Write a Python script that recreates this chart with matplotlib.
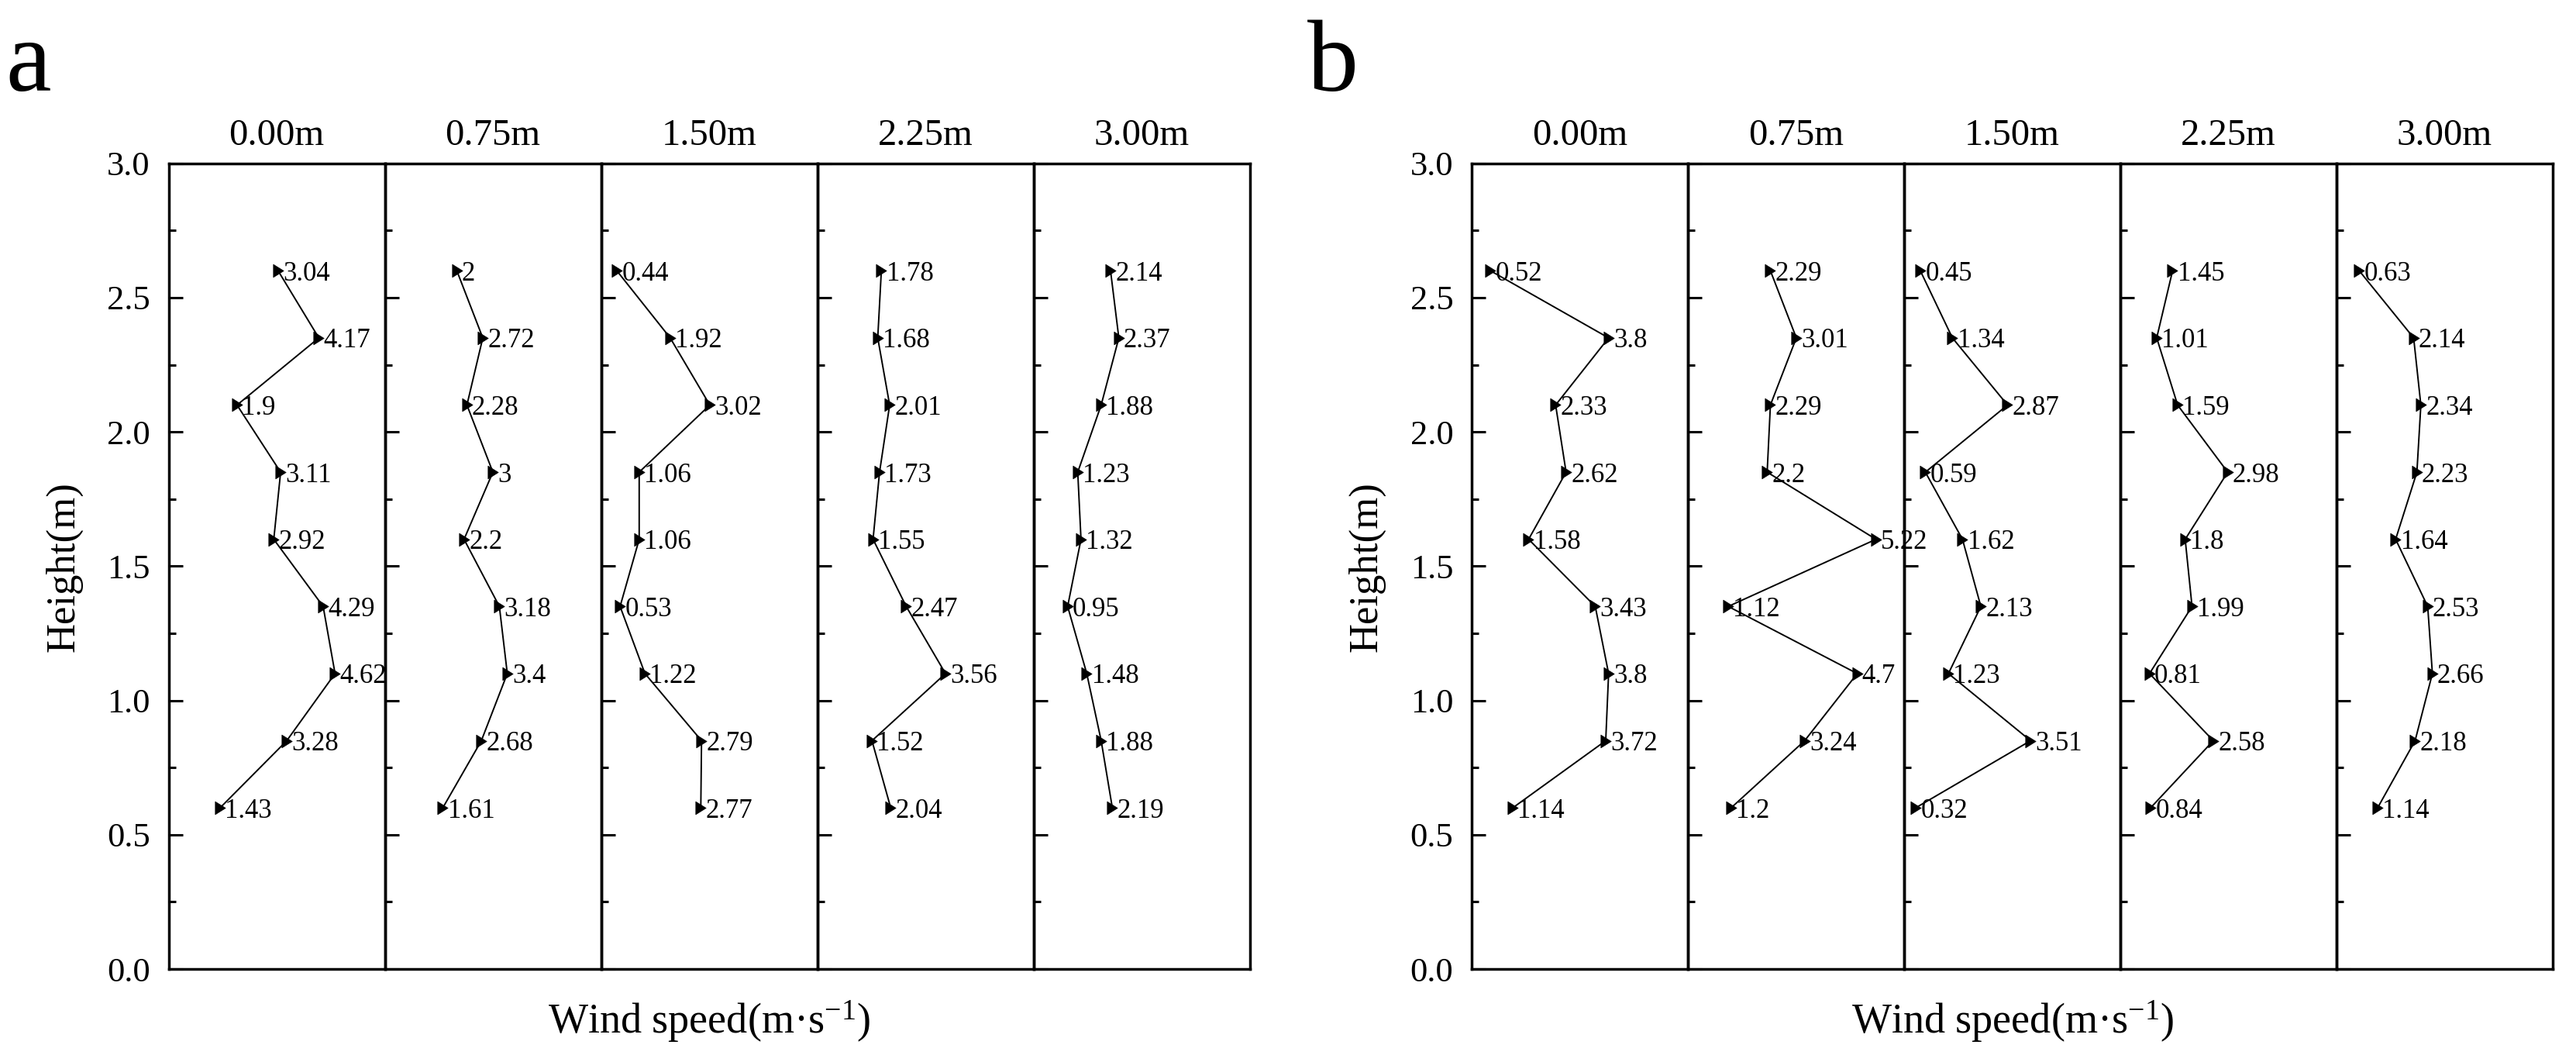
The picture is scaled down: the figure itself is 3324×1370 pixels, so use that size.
import matplotlib
matplotlib.use('Agg')
import matplotlib.pyplot as plt
from matplotlib.path import Path
from matplotlib.ticker import MultipleLocator, FormatStrFormatter

plt.rcParams['font.family'] = ['Liberation Serif', 'DejaVu Serif']
plt.rcParams['mathtext.fontset'] = 'custom'
plt.rcParams['mathtext.rm'] = 'Liberation Serif'
plt.rcParams['mathtext.default'] = 'regular'

# ---------------- data ----------------
heights = [2.6, 2.35, 2.1, 1.85, 1.6, 1.35, 1.1, 0.85, 0.6]   # top -> bottom
positions = ['0.00m', '0.75m', '1.50m', '2.25m', '3.00m']
panel_labels = ['a', 'b']

a_000 = [3.04, 4.17, 1.9, 3.11, 2.92, 4.29, 4.62, 3.28, 1.43]
a_075 = [2, 2.72, 2.28, 3, 2.2, 3.18, 3.4, 2.68, 1.61]
a_150 = [0.44, 1.92, 3.02, 1.06, 1.06, 0.53, 1.22, 2.79, 2.77]
a_225 = [1.78, 1.68, 2.01, 1.73, 1.55, 2.47, 3.56, 1.52, 2.04]
a_300 = [2.14, 2.37, 1.88, 1.23, 1.32, 0.95, 1.48, 1.88, 2.19]

b_000 = [0.52, 3.8, 2.33, 2.62, 1.58, 3.43, 3.8, 3.72, 1.14]
b_075 = [2.29, 3.01, 2.29, 2.2, 5.22, 1.12, 4.7, 3.24, 1.2]
b_150 = [0.45, 1.34, 2.87, 0.59, 1.62, 2.13, 1.23, 3.51, 0.32]
b_225 = [1.45, 1.01, 1.59, 2.98, 1.8, 1.99, 0.81, 2.58, 0.84]
b_300 = [0.63, 2.14, 2.34, 2.23, 1.64, 2.53, 2.66, 2.18, 1.14]

panels = [[a_000, a_075, a_150, a_225, a_300],
          [b_000, b_075, b_150, b_225, b_300]]

xlabel = 'Wind speed(m·s$^{-1}$)'
ylabel = 'Height(m)'

# ---------------- layout ----------------
W, H = 3324, 1370
fig = plt.figure(figsize=(W / 100, H / 100), dpi=100)

panel_left_px = [217.5, 1899]
col_w_px = 279
ax_bottom = (H - 1250) / H
ax_top = (H - 210.7) / H
ax_h = ax_top - ax_bottom

tri = Path([(-0.8, 1.0), (-0.8, -1.0), (0.8, 0.0), (-0.8, 1.0)],
           [Path.MOVETO, Path.LINETO, Path.LINETO, Path.CLOSEPOLY])

SPINE_LW = 2.5
for p, cols in enumerate(panels):
    for c, vals in enumerate(cols):
        left = (panel_left_px[p] + c * col_w_px) / W
        ax = fig.add_axes([left, ax_bottom, col_w_px / W, ax_h])
        ax.patch.set_visible(False)
        ax.plot(vals, heights, color='black', lw=1.4, marker=tri,
                markersize=12, markerfacecolor='black',
                markeredgecolor='black', markeredgewidth=0.5, zorder=3)
        for v, h in zip(vals, heights):
            ax.annotate(f'{v:g}', xy=(v, h), xytext=(4.5, 0),
                        textcoords='offset points', ha='left',
                        va='center_baseline', fontsize=25, zorder=4)
        ax.set_xlim(0, 6)
        ax.set_ylim(0, 3.0)
        ax.set_xticks([])
        ax.yaxis.set_major_locator(MultipleLocator(0.5))
        ax.yaxis.set_minor_locator(MultipleLocator(0.25))
        ax.yaxis.set_major_formatter(FormatStrFormatter('%.1f'))
        ax.tick_params(axis='y', which='major', direction='in', length=13,
                       width=2.2, labelsize=32, pad=17, right=False)
        ax.tick_params(axis='y', which='minor', direction='in', length=6.5,
                       width=2.2, right=False)
        if c > 0:
            ax.tick_params(axis='y', which='both', labelleft=False)
        for s in ax.spines.values():
            s.set_linewidth(SPINE_LW)
        ax.set_title(positions[c], fontsize=35, pad=17)

    # panel letter
    fig.text((7 + p * 1680) / W, (H - 117) / H, panel_labels[p],
             fontsize=95, ha='left', va='baseline')
    # y label
    fig.text((82 + p * 1681.5) / W, (H - 731) / H, ylabel, rotation=90,
             fontsize=38, ha='center', va='center')
    # x label
    cx = (panel_left_px[p] + 2.5 * col_w_px) / W
    fig.text(cx, (H - 1333) / H, xlabel, fontsize=39,
             ha='center', va='baseline')

fig.savefig('out.png', dpi=100)
